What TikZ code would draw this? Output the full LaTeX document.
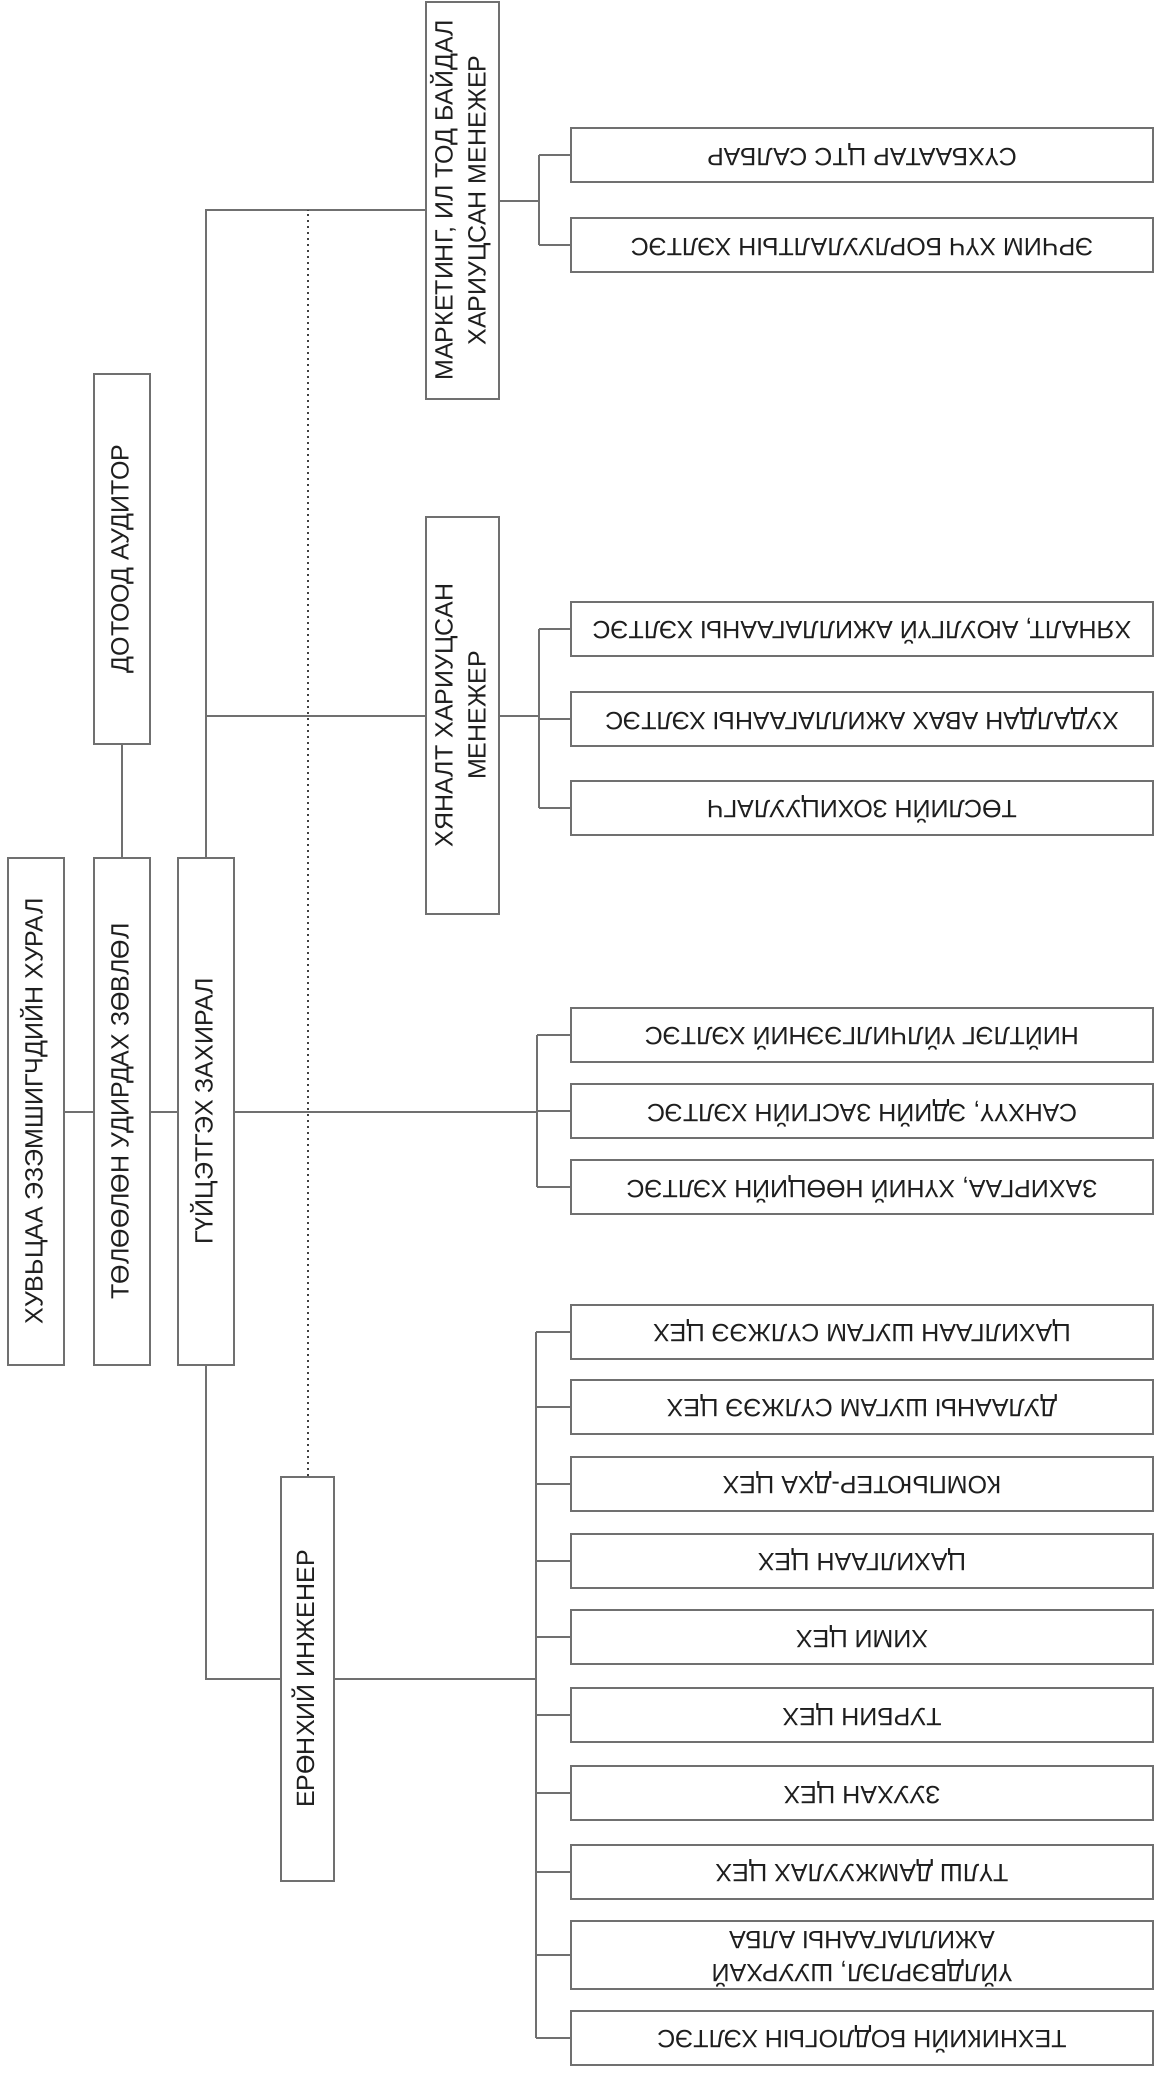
\documentclass[tikz,border=0pt]{standalone}
\usepackage{fontspec}
\setmainfont{Liberation Sans}
\definecolor{linegray}{RGB}{112,112,112}
\definecolor{txt}{RGB}{30,30,30}
\newcommand\vtext[1]{\rotatebox{90}{\begin{tabular}{@{}c@{}}#1\end{tabular}}}
\newcommand\ftext[1]{\rotatebox{180}{\begin{tabular}{@{}c@{}}#1\end{tabular}}}

\begin{document}
\begin{tikzpicture}[x=.5pt, y=-.5pt,
   box/.style={draw=linegray, line width=1pt, inner sep=0pt, text=txt,
      font=\fontsize{12.5}{16.5}\selectfont},
   vbox/.style={box, minimum width=28pt, minimum height=#1},
   dept/.style={box, minimum width=291pt, minimum height=#1},
   dept/.default=27pt,
   wire/.style={draw=linegray, line width=1pt}]
   \useasboundingbox (0,0) rectangle (1160,2077);

   % left column
   \node[vbox=253.5pt] (share) at (36,1111.5) {\vtext{ХУВЬЦАА ЭЗЭМШИГЧДИЙН ХУРАЛ}};
   \node[vbox=253.5pt] (board) at (122,1111.5) {\vtext{ТӨЛӨӨЛӨН УДИРДАХ ЗӨВЛӨЛ}};
   \node[vbox=253.5pt] (ceo) at (206,1111.5) {\vtext{ГҮЙЦЭТГЭХ ЗАХИРАЛ}};
   \node[vbox=185pt] (audit) at (122,559) {\vtext{ДОТООД АУДИТОР}};
   \node[vbox=202pt, minimum width=26.5pt] (chief) at (307.5,1679) {\vtext{ЕРӨНХИЙ ИНЖЕНЕР}};
   \node[vbox=198.5pt, minimum width=36.5pt] (mkt) at (462.5,200.5)
      {\vtext{МАРКЕТИНГ, ИЛ ТОД БАЙДАЛ\\ХАРИУЦСАН МЕНЕЖЕР}};
   \node[vbox=198.5pt, minimum width=36.5pt] (ctrl) at (462.5,715.5)
      {\vtext{ХЯНАЛТ ХАРИУЦСАН\\МЕНЕЖЕР}};

   % departments
   \node[dept] (m1) at (862,155) {\ftext{СҮХБААТАР ЦТС САЛБАР}};
   \node[dept] (m2) at (862,245) {\ftext{ЭРЧИМ ХҮЧ БОРЛУУЛАЛТЫН ХЭЛТЭС}};

   \node[dept] (c1) at (862,628.5) {\ftext{ХЯНАЛТ, АЮУЛГҮЙ АЖИЛЛАГААНЫ ХЭЛТЭС}};
   \node[dept] (c2) at (862,719) {\ftext{ХУДАЛДАН АВАХ АЖИЛЛАГААНЫ ХЭЛТЭС}};
   \node[dept] (c3) at (862,807.5) {\ftext{ТӨСЛИЙН ЗОХИЦУУЛАГЧ}};

   \node[dept] (g1) at (862,1034.5) {\ftext{НИЙТЛЭГ ҮЙЛЧИЛГЭЭНИЙ ХЭЛТЭС}};
   \node[dept] (g2) at (862,1111) {\ftext{САНХҮҮ, ЭДИЙН ЗАСГИЙН ХЭЛТЭС}};
   \node[dept] (g3) at (862,1187) {\ftext{ЗАХИРГАА, ХҮНИЙ НӨӨЦИЙН ХЭЛТЭС}};

   \node[dept] (e1) at (862,1331.5) {\ftext{ЦАХИЛГААН ШУГАМ СҮЛЖЭЭ ЦЕХ}};
   \node[dept] (e2) at (862,1406.5) {\ftext{ДУЛААНЫ ШУГАМ СҮЛЖЭЭ ЦЕХ}};
   \node[dept] (e3) at (862,1483.5) {\ftext{КОМПЬЮТЕР-ДХА ЦЕХ}};
   \node[dept] (e4) at (862,1560.5) {\ftext{ЦАХИЛГААН ЦЕХ}};
   \node[dept] (e5) at (862,1637) {\ftext{ХИМИ ЦЕХ}};
   \node[dept] (e6) at (862,1715) {\ftext{ТУРБИН ЦЕХ}};
   \node[dept] (e7) at (862,1793) {\ftext{ЗУУХАН ЦЕХ}};
   \node[dept] (e8) at (862,1871.5) {\ftext{ТҮЛШ ДАМЖУУЛАХ ЦЕХ}};
   \node[dept=34pt] (e9) at (862,1955) {\ftext{ҮЙЛДВЭРЛЭЛ, ШУУРХАЙ\\АЖИЛЛАГААНЫ АЛБА}};
   \node[dept] (e10) at (862,2037.5) {\ftext{ТЕХНИКИЙН БОДЛОГЫН ХЭЛТЭС}};

   % main lines
   \draw[wire] (audit) -- (board);
   \draw[wire] (share) -- (board);
   \draw[wire] (board) -- (ceo);
   \coordinate (mk) at ([yshift=-4.5pt]mkt.west);
   \draw[wire] (ceo.north) |- (mk);
   \draw[wire] (ceo.north |- ctrl.west) -- (ctrl.west);
   \draw[wire] (ceo.south) |- (chief.west);
   \draw[black!75, line width=1pt, dotted] (chief.north) -- (chief.north |- mk);

   % brackets
   \coordinate (mb) at ([xshift=-15.5pt]m1.west);
   \coordinate (cb) at ([xshift=-15.5pt]c1.west);
   \coordinate (gb) at ([xshift=-16.5pt]g1.west);
   \coordinate (eb) at ([xshift=-17pt]e1.west);

   \draw[wire] (mkt.east) -- (mkt.east -| mb);
   \draw[wire] (mb) -- (mb |- m2.west);
   \foreach \s in {m1,m2}
   \draw[wire] (\s.west) -- (\s.west -| mb);

   \draw[wire] (ctrl.east) -- (ctrl.east -| cb);
   \draw[wire] (cb) -- (cb |- c3.west);
   \foreach \s in {c1,c2,c3}
   \draw[wire] (\s.west) -- (\s.west -| cb);

   \draw[wire] (ceo.east) -- (ceo.east -| gb);
   \draw[wire] (gb) -- (gb |- g3.west);
   \foreach \s in {g1,g2,g3}
   \draw[wire] (\s.west) -- (\s.west -| gb);

   \draw[wire] (chief.east) -- (chief.east -| eb);
   \draw[wire] (eb) -- (eb |- e10.west);
   \foreach \s in {e1,e2,e3,e4,e5,e6,e7,e8,e9,e10}
   \draw[wire] (\s.west) -- (\s.west -| eb);

\end{tikzpicture}
\end{document}
